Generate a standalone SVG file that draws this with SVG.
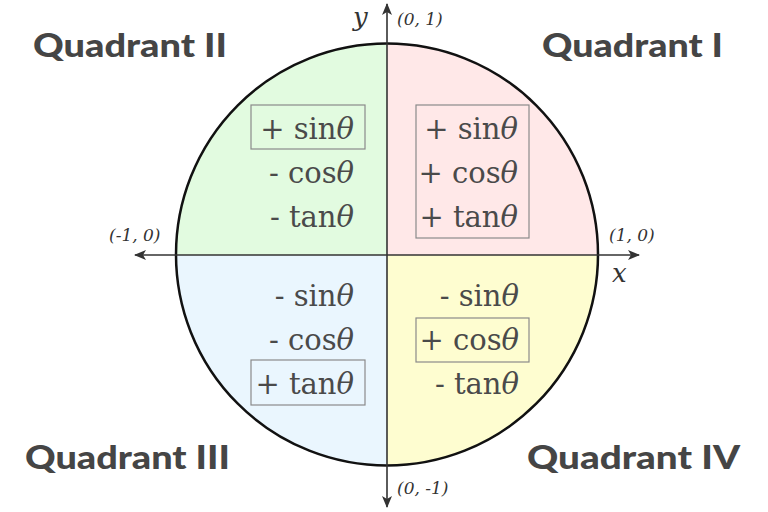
<svg xmlns="http://www.w3.org/2000/svg" width="768" height="512" viewBox="0 0 768 512">
<style>
.q{font-family:"Lato","Open Sans",sans-serif;font-weight:900;font-size:33px;fill:#454545}
.t{font-family:"DejaVu Serif",serif;font-size:29px;fill:#4a4a4a;text-anchor:end}
.th{font-style:italic}
.c{font-family:"DejaVu Serif",serif;font-style:italic;font-size:17px;fill:#333}
.v{font-family:"DejaVu Serif",serif;font-style:italic;font-size:26px;fill:#333}
.box{fill:none;stroke:#8a8a8a;stroke-width:1.2}
.ax{stroke:#333;stroke-width:1.6;fill:none}
</style>
<defs>
<marker id="ah" viewBox="0 0 12 10" refX="11" refY="5" markerWidth="12" markerHeight="10" markerUnits="userSpaceOnUse" orient="auto">
<path d="M0,0 L12,5 L0,10 L3,5 Z" fill="#333"/>
</marker>
<clipPath id="cc"><circle cx="387" cy="254.5" r="211"/></clipPath>
</defs>
<g id="quadrants" clip-path="url(#cc)">
<rect x="387" y="40" width="215" height="215" fill="#ffe8e8"/>
<rect x="170" y="40" width="217" height="215" fill="#e2fbe0"/>
<rect x="170" y="255" width="217" height="215" fill="#eaf6fe"/>
<rect x="387" y="255" width="215" height="215" fill="#fefdd0"/>
</g>
<g id="circle"><circle cx="387" cy="254.5" r="211" fill="none" stroke="#111" stroke-width="2.5"/></g>
<g id="connectors">
<line class="ax" x1="387" y1="466" x2="387" y2="43" stroke="#666" stroke-width="2"/>
<line class="ax" x1="177" y1="255" x2="597" y2="255" stroke-width="2"/>
<line class="ax" x1="387" y1="43" x2="387" y2="4" marker-end="url(#ah)"/>
<line class="ax" x1="387" y1="466" x2="387" y2="507" marker-end="url(#ah)"/>
<line class="ax" x1="177" y1="255" x2="135" y2="255" marker-end="url(#ah)"/>
<line class="ax" x1="597" y1="255" x2="639" y2="255" marker-end="url(#ah)"/>
</g>
<g id="axis-labels">
<text class="v" x="353" y="26">y</text>
<text class="v" x="612" y="282">x</text>
<text class="c" x="397" y="25">(0, 1)</text>
<text class="c" x="109" y="241">(-1, 0)</text>
<text class="c" x="609" y="241">(1, 0)</text>
<text class="c" x="397" y="494">(0, -1)</text>
</g>
<g id="q1">
<text class="q" x="542" y="57" textLength="181" lengthAdjust="spacingAndGlyphs">Quadrant I</text>
<rect class="box" x="416" y="105" width="113" height="133"/>
<text class="t" x="518" y="139">+ sin<tspan class="th">θ</tspan></text>
<text class="t" x="518" y="183">+ cos<tspan class="th">θ</tspan></text>
<text class="t" x="518" y="227">+ tan<tspan class="th">θ</tspan></text>
</g>
<g id="q2">
<text class="q" x="33" y="57" textLength="194" lengthAdjust="spacingAndGlyphs">Quadrant II</text>
<rect class="box" x="251" y="105" width="114" height="44"/>
<text class="t" x="354" y="139">+ sin<tspan class="th">θ</tspan></text>
<text class="t" x="354" y="183">- cos<tspan class="th">θ</tspan></text>
<text class="t" x="354" y="227">- tan<tspan class="th">θ</tspan></text>
</g>
<g id="q3">
<text class="q" x="25" y="469" textLength="205" lengthAdjust="spacingAndGlyphs">Quadrant III</text>
<rect class="box" x="251" y="360" width="114" height="45"/>
<text class="t" x="354" y="306">- sin<tspan class="th">θ</tspan></text>
<text class="t" x="354" y="350">- cos<tspan class="th">θ</tspan></text>
<text class="t" x="354" y="394">+ tan<tspan class="th">θ</tspan></text>
</g>
<g id="q4">
<text class="q" x="527" y="469" textLength="213" lengthAdjust="spacingAndGlyphs">Quadrant IV</text>
<rect class="box" x="416" y="318" width="113" height="44"/>
<text class="t" x="519" y="306">- sin<tspan class="th">θ</tspan></text>
<text class="t" x="519" y="350">+ cos<tspan class="th">θ</tspan></text>
<text class="t" x="519" y="394">- tan<tspan class="th">θ</tspan></text>
</g>
</svg>
